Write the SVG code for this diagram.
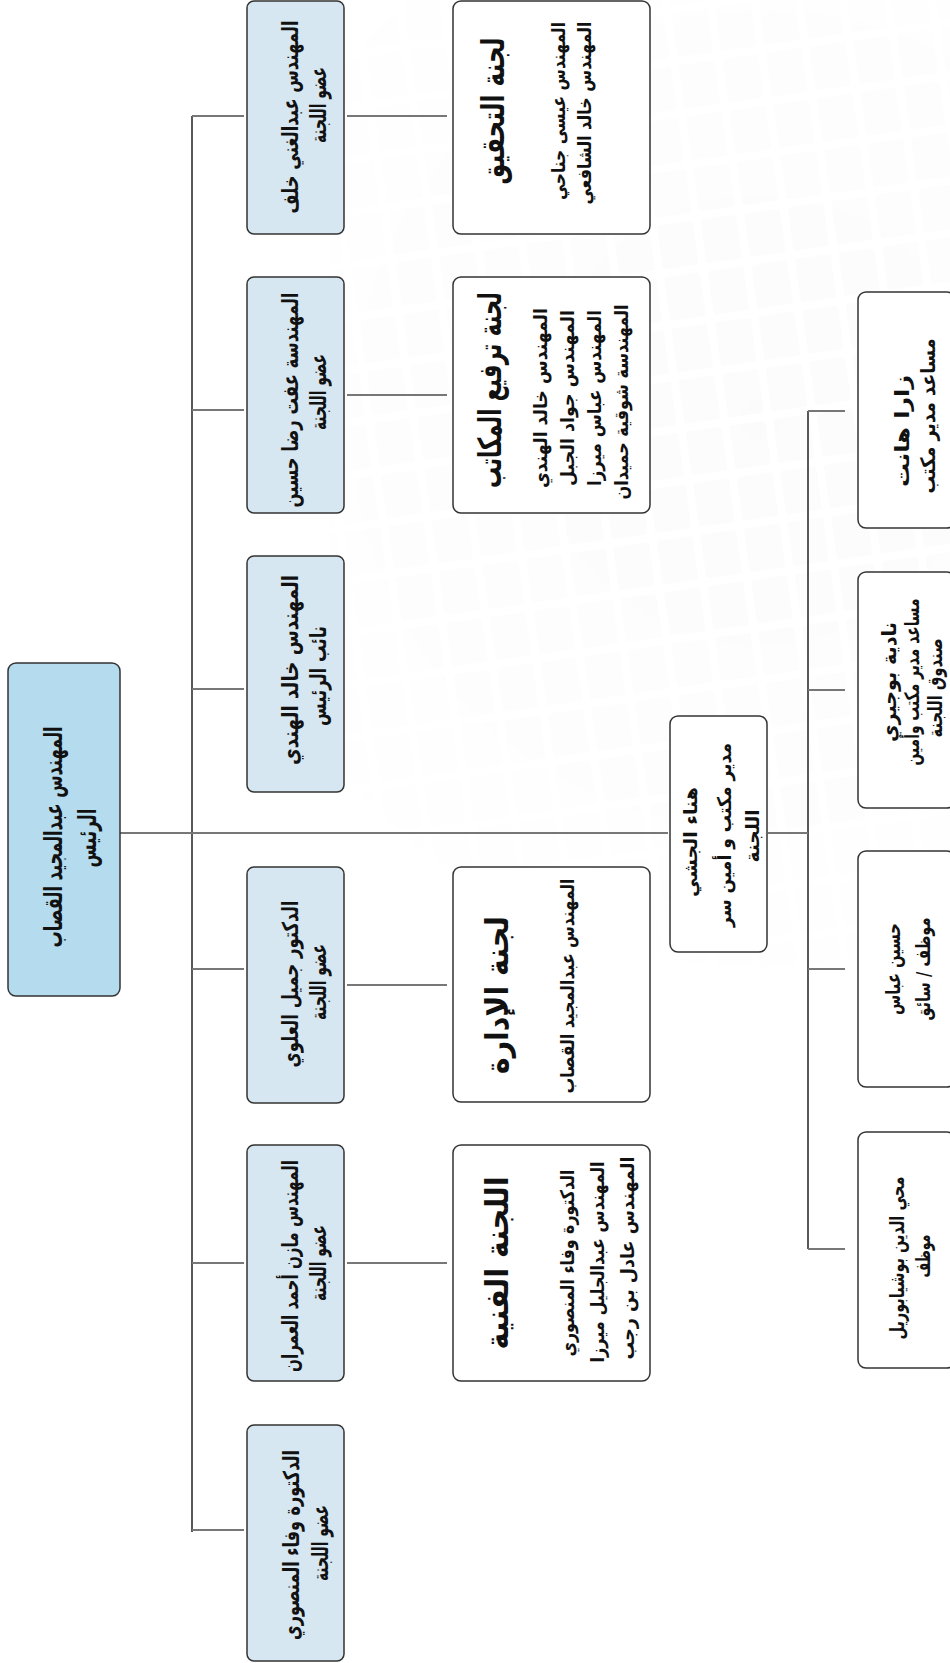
<svg xmlns="http://www.w3.org/2000/svg" width="950" height="1663" viewBox="0 0 950 1663">
<defs>
  <pattern id="tiles" x="0" y="0" width="44" height="52" patternUnits="userSpaceOnUse" patternTransform="rotate(-8)">
    <rect x="3" y="3" width="36" height="44" rx="3" fill="#ededed"/>
  </pattern>
  <radialGradient id="fade" cx="760" cy="420" r="620" gradientUnits="userSpaceOnUse">
    <stop offset="0" stop-color="#fff" stop-opacity="0.2"/>
    <stop offset="0.6" stop-color="#fff" stop-opacity="0.1"/>
    <stop offset="1" stop-color="#fff" stop-opacity="0"/>
  </radialGradient>
  <mask id="fadeMask">
    <rect x="0" y="0" width="950" height="1663" fill="url(#fade)"/>
  </mask>
</defs>
<style>
  .box{stroke:#333;stroke-width:1.5}
  .root{fill:#b4dbee}
  .mem{fill:#d6e7f1}
  .com{fill:#ffffff}
  .spine{stroke:#222;stroke-width:1.5;fill:none}
  .br{stroke:#777;stroke-width:2;fill:none}
  text{font-family:"DejaVu Sans","Noto Sans",sans-serif;font-weight:bold;fill:#111;text-anchor:middle;dominant-baseline:central;direction:rtl}
  .t22{font-size:25px}
  .t19{font-size:22px}
  .t28{font-size:32px}
  .t17{font-size:19px}
  .t18{font-size:20px}
</style>
<rect x="0" y="0" width="950" height="1663" fill="#ffffff"/>
<rect id="background-pattern" x="330" y="0" width="620" height="1350" fill="url(#tiles)" mask="url(#fadeMask)"/>

<g id="connectors">
  <line class="spine" x1="192" y1="116" x2="192" y2="1532"/>
  <line class="spine" x1="808" y1="411" x2="808" y2="1249"/>
  <line class="br" x1="120" y1="833" x2="668" y2="833"/>
  <line class="br" x1="768" y1="833" x2="808" y2="833"/>
  <line class="br" x1="192" y1="116" x2="244" y2="116"/>
  <line class="br" x1="192" y1="410" x2="244" y2="410"/>
  <line class="br" x1="192" y1="689" x2="244" y2="689"/>
  <line class="br" x1="192" y1="969" x2="244" y2="969"/>
  <line class="br" x1="192" y1="1263" x2="244" y2="1263"/>
  <line class="br" x1="192" y1="1530" x2="244" y2="1530"/>
  <line class="br" x1="347" y1="116" x2="447" y2="116"/>
  <line class="br" x1="347" y1="395" x2="447" y2="395"/>
  <line class="br" x1="347" y1="985" x2="447" y2="985"/>
  <line class="br" x1="347" y1="1263" x2="447" y2="1263"/>
  <line class="br" x1="808" y1="411" x2="845" y2="411"/>
  <line class="br" x1="808" y1="690" x2="845" y2="690"/>
  <line class="br" x1="808" y1="969" x2="845" y2="969"/>
  <line class="br" x1="808" y1="1249" x2="845" y2="1249"/>
</g>

<g id="root">
  <rect class="box root" x="8" y="663" width="112" height="333" rx="8"/>
  <text class="t22" transform="translate(53,837) rotate(-90)" textLength="221" lengthAdjust="spacingAndGlyphs">المهندس عبدالمجيد القصاب</text>
  <text class="t22" transform="translate(87,838) rotate(-90)" textLength="59" lengthAdjust="spacingAndGlyphs">الرئيس</text>
</g>

<g id="member1">
  <rect class="box mem" x="247" y="1" width="97" height="233" rx="7"/>
  <text class="t19" transform="translate(290,117) rotate(-90)" textLength="193" lengthAdjust="spacingAndGlyphs">المهندس عبدالغني خلف</text>
  <text class="t19" transform="translate(318,105) rotate(-90)" textLength="76" lengthAdjust="spacingAndGlyphs">عضو اللجنة</text>
</g>
<g id="member2">
  <rect class="box mem" x="247" y="277" width="97" height="236" rx="7"/>
  <text class="t19" transform="translate(290,400) rotate(-90)" textLength="215" lengthAdjust="spacingAndGlyphs">المهندسة عفت رضا حسين</text>
  <text class="t19" transform="translate(318,392) rotate(-90)" textLength="76" lengthAdjust="spacingAndGlyphs">عضو اللجنة</text>
</g>
<g id="member3">
  <rect class="box mem" x="247" y="556" width="97" height="236" rx="7"/>
  <text class="t19" transform="translate(290,670) rotate(-90)" textLength="190" lengthAdjust="spacingAndGlyphs">المهندس خالد الهندي</text>
  <text class="t19" transform="translate(318,676) rotate(-90)" textLength="100" lengthAdjust="spacingAndGlyphs">نائب الرئيس</text>
</g>
<g id="member4">
  <rect class="box mem" x="247" y="867" width="97" height="236" rx="7"/>
  <text class="t19" transform="translate(290,984) rotate(-90)" textLength="167" lengthAdjust="spacingAndGlyphs">الدكتور جميل العلوي</text>
  <text class="t19" transform="translate(318,982) rotate(-90)" textLength="76" lengthAdjust="spacingAndGlyphs">عضو اللجنة</text>
</g>
<g id="member5">
  <rect class="box mem" x="247" y="1145" width="97" height="236" rx="7"/>
  <text class="t19" transform="translate(290,1266) rotate(-90)" textLength="212" lengthAdjust="spacingAndGlyphs">المهندس مازن أحمد العمران</text>
  <text class="t19" transform="translate(318,1263) rotate(-90)" textLength="76" lengthAdjust="spacingAndGlyphs">عضو اللجنة</text>
</g>
<g id="member6">
  <rect class="box mem" x="247" y="1425" width="97" height="236" rx="7"/>
  <text class="t19" transform="translate(291,1545) rotate(-90)" textLength="190" lengthAdjust="spacingAndGlyphs">الدكتورة وفاء المنصوري</text>
  <text class="t19" transform="translate(320,1543) rotate(-90)" textLength="76" lengthAdjust="spacingAndGlyphs">عضو اللجنة</text>
</g>

<g id="committee1">
  <rect class="box com" x="453" y="1" width="197" height="233" rx="8"/>
  <text class="t28" transform="translate(493,111) rotate(-90)" textLength="147" lengthAdjust="spacingAndGlyphs">لجنة التحقيق</text>
  <text class="t17" transform="translate(558,111) rotate(-90)" textLength="178" lengthAdjust="spacingAndGlyphs">المهندس عيسى جناحي</text>
  <text class="t17" transform="translate(584,113) rotate(-90)" textLength="183" lengthAdjust="spacingAndGlyphs">المهندس خالد الشافعي</text>
</g>
<g id="committee2">
  <rect class="box com" x="453" y="277" width="197" height="236" rx="8"/>
  <text class="t28" transform="translate(490,390) rotate(-90)" textLength="196" lengthAdjust="spacingAndGlyphs">لجنة ترفيع المكاتب</text>
  <text class="t17" transform="translate(540,398) rotate(-90)" textLength="180" lengthAdjust="spacingAndGlyphs">المهندس خالد الهندي</text>
  <text class="t17" transform="translate(567,398) rotate(-90)" textLength="176" lengthAdjust="spacingAndGlyphs">المهندس جواد الجبل</text>
  <text class="t17" transform="translate(594,398) rotate(-90)" textLength="176" lengthAdjust="spacingAndGlyphs">المهندس عباس ميرزا</text>
  <text class="t17" transform="translate(621,402) rotate(-90)" textLength="195" lengthAdjust="spacingAndGlyphs">المهندسة شوقية حميدان</text>
</g>
<g id="committee3">
  <rect class="box com" x="453" y="867" width="197" height="235" rx="8"/>
  <text class="t28" transform="translate(497,995) rotate(-90)" textLength="158" lengthAdjust="spacingAndGlyphs">لجنة الإدارة</text>
  <text class="t17" transform="translate(567,986) rotate(-90)" textLength="215" lengthAdjust="spacingAndGlyphs">المهندس عبدالمجيد القصاب</text>
</g>
<g id="committee4">
  <rect class="box com" x="453" y="1145" width="197" height="236" rx="8"/>
  <text class="t28" transform="translate(497,1263) rotate(-90)" textLength="173" lengthAdjust="spacingAndGlyphs">اللجنة الفنية</text>
  <text class="t17" transform="translate(567,1263) rotate(-90)" textLength="187" lengthAdjust="spacingAndGlyphs">الدكتورة وفاء المنصوري</text>
  <text class="t17" transform="translate(597,1262) rotate(-90)" textLength="201" lengthAdjust="spacingAndGlyphs">المهندس عبدالجليل ميرزا</text>
  <text class="t17" transform="translate(627,1258) rotate(-90)" textLength="203" lengthAdjust="spacingAndGlyphs">المهندس عادل بن رجب</text>
</g>

<g id="secretary">
  <rect class="box com" x="670" y="716" width="97" height="236" rx="8"/>
  <text class="t17" transform="translate(690,842) rotate(-90)" textLength="110" lengthAdjust="spacingAndGlyphs">هناء الجشي</text>
  <text class="t17" transform="translate(724,835) rotate(-90)" textLength="184" lengthAdjust="spacingAndGlyphs">مدير مكتب و أمين سر</text>
  <text class="t17" transform="translate(752,836) rotate(-90)" textLength="53" lengthAdjust="spacingAndGlyphs">اللجنة</text>
</g>

<g id="staff1">
  <rect class="box com" x="858" y="292" width="97" height="236" rx="8"/>
  <text class="t18" transform="translate(902,431) rotate(-90)" textLength="112" lengthAdjust="spacingAndGlyphs">زارا هانت</text>
  <text class="t18" transform="translate(928,416) rotate(-90)" textLength="155" lengthAdjust="spacingAndGlyphs">مساعد مدير مكتب</text>
</g>
<g id="staff2">
  <rect class="box com" x="858" y="572" width="97" height="236" rx="8"/>
  <text class="t18" transform="translate(889,682) rotate(-90)" textLength="120" lengthAdjust="spacingAndGlyphs">نادية بوجيري</text>
  <text class="t18" transform="translate(912,682) rotate(-90)" textLength="167" lengthAdjust="spacingAndGlyphs">مساعد مدير مكتب وأمين</text>
  <text class="t18" transform="translate(935,688) rotate(-90)" textLength="99" lengthAdjust="spacingAndGlyphs">صندوق اللجنة</text>
</g>
<g id="staff3">
  <rect class="box com" x="858" y="851" width="97" height="236" rx="8"/>
  <text class="t18" transform="translate(893,969) rotate(-90)" textLength="92" lengthAdjust="spacingAndGlyphs">حسين عباس</text>
  <text class="t18" transform="translate(923,969) rotate(-90)" textLength="103" lengthAdjust="spacingAndGlyphs">موظف / سائق</text>
</g>
<g id="staff4">
  <rect class="box com" x="858" y="1132" width="97" height="236" rx="8"/>
  <text class="t18" transform="translate(897,1258) rotate(-90)" textLength="163" lengthAdjust="spacingAndGlyphs">محي الدين بوشيابوريل</text>
  <text class="t18" transform="translate(923,1256) rotate(-90)" textLength="43" lengthAdjust="spacingAndGlyphs">موظف</text>
</g>
</svg>
